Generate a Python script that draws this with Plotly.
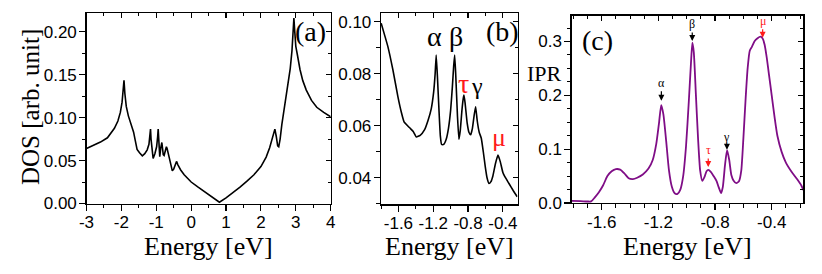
import plotly.graph_objects as go

W, H = 822, 274

# ---------------- data ----------------
# Panel (a): DOS over the full band
energy_a = [-3.0, -2.8, -2.6, -2.4, -2.2, -2.1, -2.03, -1.98, -1.95, -1.925, -1.9, -1.86,
            -1.8, -1.72, -1.65, -1.6, -1.55, -1.48, -1.4, -1.33, -1.26, -1.21, -1.18,
            -1.165, -1.15, -1.12, -1.09, -1.04, -0.99, -0.96, -0.945, -0.925, -0.9,
            -0.87, -0.84, -0.82, -0.8, -0.775, -0.74, -0.71, -0.69, -0.66, -0.62,
            -0.58, -0.54, -0.5, -0.46, -0.42, -0.38, -0.3, -0.2, -0.1, 0.0, 0.2, 0.4,
            0.6, 0.81, 1.0, 1.2, 1.4, 1.6, 1.8, 2.0, 2.15, 2.25, 2.32, 2.37, 2.4, 2.44,
            2.48, 2.51, 2.55, 2.6, 2.66, 2.72, 2.78, 2.84, 2.89, 2.92, 2.945, 2.97, 3.0,
            3.05, 3.12, 3.2, 3.3, 3.45, 3.6, 3.8, 4.0]
dos_a = [0.064, 0.0675, 0.0715, 0.0765, 0.0875, 0.096, 0.106, 0.118, 0.13, 0.1435, 0.128,
         0.113, 0.102, 0.093, 0.083, 0.073, 0.063, 0.059, 0.0555, 0.058, 0.0625, 0.069,
         0.08, 0.0866, 0.075, 0.058, 0.0525, 0.058, 0.066, 0.078, 0.0866, 0.072, 0.0545,
         0.065, 0.071, 0.064, 0.057, 0.056, 0.062, 0.066, 0.064, 0.057, 0.052, 0.045,
         0.038, 0.040, 0.045, 0.049, 0.045, 0.039, 0.0335, 0.029, 0.025, 0.019, 0.0135,
         0.0075, 0.0015, 0.0065, 0.0125, 0.019, 0.026, 0.0335, 0.043, 0.054, 0.065,
         0.075, 0.084, 0.0866, 0.078, 0.067, 0.066, 0.075, 0.092, 0.108, 0.125, 0.142,
         0.157, 0.178, 0.2, 0.216, 0.2, 0.183, 0.172, 0.156, 0.143, 0.132, 0.12, 0.112,
         0.106, 0.101]

# Panel (b): DOS zoom
energy_b = [-1.798, -1.76, -1.721, -1.663, -1.606, -1.565, -1.535, -1.471, -1.43, -1.395,
            -1.35, -1.299, -1.26, -1.223, -1.195, -1.178, -1.166, -1.152, -1.134, -1.118,
            -1.104, -1.08, -1.051, -1.025, -1.0, -0.98, -0.965, -0.954, -0.942, -0.922,
            -0.905, -0.89, -0.87, -0.855, -0.847, -0.835, -0.81, -0.79, -0.77, -0.75,
            -0.73, -0.713, -0.695, -0.672, -0.648, -0.625, -0.602, -0.582, -0.56, -0.537,
            -0.514, -0.485, -0.456, -0.43, -0.4, -0.379, -0.33, -0.28, -0.235]
dos_b = [0.0994, 0.095, 0.0904, 0.0814, 0.0712, 0.065, 0.0615, 0.0592, 0.0578, 0.0557,
         0.0563, 0.0585, 0.062, 0.0665, 0.073, 0.08, 0.0872, 0.079, 0.066, 0.056,
         0.0528, 0.0528, 0.0548, 0.059, 0.066, 0.075, 0.083, 0.0872, 0.08, 0.064,
         0.0548, 0.058, 0.066, 0.0705, 0.0718, 0.069, 0.061, 0.0575, 0.0565, 0.059,
         0.064, 0.0673, 0.062, 0.0575, 0.0552, 0.05, 0.0442, 0.040, 0.0378, 0.0385,
         0.0408, 0.0455, 0.0487, 0.0462, 0.042, 0.0405, 0.0378, 0.035, 0.0327]

# Panel (c): IPR
energy_c = [-1.812, -1.75, -1.70, -1.675, -1.65, -1.62, -1.59, -1.56, -1.53, -1.50, -1.47,
            -1.44, -1.41, -1.38, -1.35, -1.31, -1.27, -1.24, -1.215, -1.195, -1.18,
            -1.165, -1.145, -1.125, -1.105, -1.085, -1.065, -1.045, -1.025, -1.005,
            -0.985, -0.97, -0.96, -0.95, -0.935, -0.92, -0.905, -0.89, -0.875, -0.86,
            -0.848, -0.83, -0.81, -0.79, -0.775, -0.757, -0.745, -0.73, -0.715, -0.7,
            -0.685, -0.67, -0.65, -0.63, -0.615, -0.6, -0.585, -0.57, -0.555, -0.54,
            -0.52, -0.50, -0.48, -0.465, -0.45, -0.435, -0.42, -0.40, -0.38, -0.36,
            -0.33, -0.3, -0.26, -0.22, -0.19, -0.177]
ipr_c = [0.004, 0.0035, 0.0028, 0.003, 0.01, 0.02, 0.033, 0.05, 0.059, 0.063, 0.062,
         0.055, 0.046, 0.0445, 0.047, 0.053, 0.064, 0.08, 0.11, 0.15, 0.182, 0.165,
         0.115, 0.06, 0.03, 0.018, 0.017, 0.025, 0.05, 0.105, 0.19, 0.26, 0.298, 0.28,
         0.2, 0.12, 0.06, 0.041, 0.048, 0.059, 0.0615, 0.058, 0.05, 0.041, 0.03, 0.0185,
         0.03, 0.07, 0.098, 0.08, 0.052, 0.042, 0.037, 0.041, 0.06, 0.12, 0.19, 0.25,
         0.283, 0.29, 0.301, 0.306, 0.309, 0.306, 0.294, 0.27, 0.24, 0.2, 0.16, 0.125,
         0.095, 0.075, 0.058, 0.044, 0.032, 0.024]

# tick values / labels
xticks_a = [-3, -2, -1, 0, 1, 2, 3, 4]
xticklabels_a = ["-3", "-2", "-1", "0", "1", "2", "3", "4"]
yticks_a = [0.0, 0.05, 0.10, 0.15, 0.20]
yticklabels_a = ["0.00", "0.05", "0.10", "0.15", "0.20"]
xticks_bc = [-1.6, -1.2, -0.8, -0.4]
xticklabels_bc = ["-1.6", "-1.2", "-0.8", "-0.4"]
yticks_b = [0.04, 0.06, 0.08, 0.10]
yticklabels_b = ["0.04", "0.06", "0.08", "0.10"]
yticks_c = [0.0, 0.1, 0.2, 0.3]
yticklabels_c = ["0.0", "0.1", "0.2", "0.3"]

# peak labels in (b)
labels_b = ["α", "β", "τ", "γ", "μ"]
labels_b_x = [-1.191, -0.942, -0.847, -0.701, -0.447]
labels_b_y = [0.0942, 0.0942, 0.0762, 0.0752, 0.0553]
labels_b_red = [False, False, True, False, True]
labels_b_size = [28, 28, 28, 24, 26]

# arrow labels in (c)
labels_c = ["α", "β", "τ", "γ", "μ"]
labels_c_x = [-1.179, -0.961, -0.848, -0.716, -0.464]
labels_c_y = [0.190, 0.301, 0.067, 0.099, 0.307]
labels_c_off = [-18, -17, -17, -13, -17]
labels_c_red = [False, False, True, False, True]

# ---------------- layout helpers ----------------
SERIF = "Liberation Serif"
SANS = "Liberation Sans"
RED = "#ff1a1a"
PURPLE = "#7f0d86"


def dom_x(p0, p1):
    return [p0 / W, p1 / W]


def dom_y(top, bottom):
    return [1 - bottom / H, 1 - top / H]


panels = {
    "a": dict(xd=dom_x(86.5, 330.7), yd=dom_y(13.3, 203.5), xr=[-3, 4], yr=[0, 0.2214],
              xt=(xticks_a, xticklabels_a), yt=(yticks_a, yticklabels_a),
              xminor=(-3, 0.5), yminor=(0, 0.025)),
    "b": dict(xd=dom_x(381, 517.5), yd=dom_y(13.3, 204.3), xr=[-1.80, -0.232],
              yr=[0.0298, 0.1032], xt=(xticks_bc, xticklabels_bc), yt=(yticks_b, yticklabels_b),
              xminor=(-1.6, 0.2), yminor=(0.04, 0.01)),
    "c": dict(xd=dom_x(571.7, 803.3), yd=dom_y(15.7, 203), xr=[-1.812, -0.177],
              yr=[0, 0.348], xt=(xticks_bc, xticklabels_bc), yt=(yticks_c, yticklabels_c),
              xminor=(-1.6, 0.1), yminor=(0, 0.025)),
}

layout = dict(width=W, height=H, margin=dict(l=0, r=0, t=0, b=0, pad=0, autoexpand=False),
              paper_bgcolor="white", plot_bgcolor="white", showlegend=False,
              font=dict(family=SANS, color="black"))

names = ["a", "b", "c"]
for i, key in enumerate(names):
    p = panels[key]
    n = i + 1
    m = i + 4
    xs = "" if n == 1 else str(n)
    common = dict(showgrid=False, zeroline=False, showline=True, linecolor="black",
                  linewidth=1.3, tickcolor="black", tickwidth=1.1, automargin=False,
                  tickfont=dict(family=SANS, size=17, color="black"))
    layout["xaxis" + xs] = dict(
        common, domain=p["xd"], range=p["xr"], anchor="y" + xs, ticks="outside", ticklen=6,
        tickmode="array", tickvals=p["xt"][0], ticktext=p["xt"][1], ticklabelstandoff=-3,
        minor=dict(ticks="outside", ticklen=3.5, tickcolor="black", tickwidth=1,
                   tick0=p["xminor"][0], dtick=p["xminor"][1], showgrid=False))
    layout["yaxis" + xs] = dict(
        common, domain=p["yd"], range=p["yr"], anchor="x" + xs, ticks="outside", ticklen=6,
        tickmode="array", tickvals=p["yt"][0], ticktext=p["yt"][1], ticklabelstandoff=-1,
        minor=dict(ticks="outside", ticklen=3.5, tickcolor="black", tickwidth=1,
                   tick0=p["yminor"][0], dtick=p["yminor"][1], showgrid=False))
    # mirrored axes (top / right) with inward ticks
    layout["xaxis" + str(m)] = dict(
        common, overlaying="x" + xs, anchor="y" + xs, side="top", range=p["xr"],
        ticks="inside", ticklen=5, showticklabels=False,
        tickmode="array", tickvals=p["xt"][0],
        minor=dict(ticks="inside", ticklen=3, tickcolor="black", tickwidth=1,
                   tick0=p["xminor"][0], dtick=p["xminor"][1], showgrid=False))
    layout["yaxis" + str(m)] = dict(
        common, overlaying="y" + xs, anchor="x" + xs, side="right", range=p["yr"],
        ticks="inside", ticklen=5, showticklabels=False,
        tickmode="array", tickvals=p["yt"][0],
        minor=dict(ticks="inside", ticklen=3, tickcolor="black", tickwidth=1,
                   tick0=p["yminor"][0], dtick=p["yminor"][1], showgrid=False))

fig = go.Figure(layout=layout)

fig.add_trace(go.Scatter(x=energy_a, y=dos_a, mode="lines", xaxis="x", yaxis="y",
                         line=dict(color="black", width=1.6), hoverinfo="skip"))
fig.add_trace(go.Scatter(x=energy_b, y=dos_b, mode="lines", xaxis="x2", yaxis="y2",
                         line=dict(color="black", width=1.6, shape="spline", smoothing=0.4),
                         hoverinfo="skip"))
fig.add_trace(go.Scatter(x=energy_c, y=ipr_c, mode="lines", xaxis="x3", yaxis="y3",
                         line=dict(color=PURPLE, width=1.8, shape="spline", smoothing=0.6),
                         hoverinfo="skip"))
# empty traces so the mirrored axes are drawn
for m in (4, 5, 6):
    fig.add_trace(go.Scatter(x=[], y=[], xaxis="x" + str(m), yaxis="y" + str(m),
                             hoverinfo="skip"))

ann = []
# axis titles
for cx in (208.6, 449.3, 687.5):
    ann.append(dict(text="Energy [eV]", xref="paper", yref="paper", x=cx / W, y=1 - 246 / H,
                    showarrow=False, xanchor="center", yanchor="middle",
                    font=dict(family=SERIF, size=26, color="black")))
ann.append(dict(text="DOS [arb. unit]", xref="paper", yref="paper", x=30 / W, y=1 - 107 / H,
                showarrow=False, textangle=-90, xanchor="center", yanchor="middle",
                font=dict(family=SERIF, size=25, color="black")))
ann.append(dict(text="IPR", xref="paper", yref="paper", x=544 / W, y=1 - 73 / H,
                showarrow=False, xanchor="center", yanchor="middle",
                font=dict(family=SERIF, size=22, color="black")))
# panel tags
for tag, cx, cy in (("(a)", 310, 32), ("(b)", 502, 32), ("(c)", 597, 41)):
    ann.append(dict(text=tag, xref="paper", yref="paper", x=cx / W, y=1 - cy / H,
                    showarrow=False, xanchor="center", yanchor="middle",
                    font=dict(family=SERIF, size=28, color="black")))
# greek labels in (b)
for t, x, y, red, s in zip(labels_b, labels_b_x, labels_b_y, labels_b_red, labels_b_size):
    ann.append(dict(text=t, xref="x2", yref="y2", x=x, y=y, showarrow=False,
                    xanchor="center", yanchor="middle",
                    font=dict(family=SERIF, size=s, color=RED if red else "black")))
# arrows + labels in (c)
for t, x, y, off, red in zip(labels_c, labels_c_x, labels_c_y, labels_c_off, labels_c_red):
    col = RED if red else "black"
    ann.append(dict(text=t, xref="x3", yref="y3", x=x, y=y, showarrow=True, ax=0, ay=off,
                    arrowhead=2, arrowsize=1, arrowwidth=1.2, arrowcolor=col,
                    font=dict(family=SERIF, size=12, color=col)))
fig.update_layout(annotations=ann)

fig.write_html("out.html", config={"displayModeBar": False, "staticPlot": True},
               post_script="document.body.style.margin='0';document.body.style.padding='0';")
